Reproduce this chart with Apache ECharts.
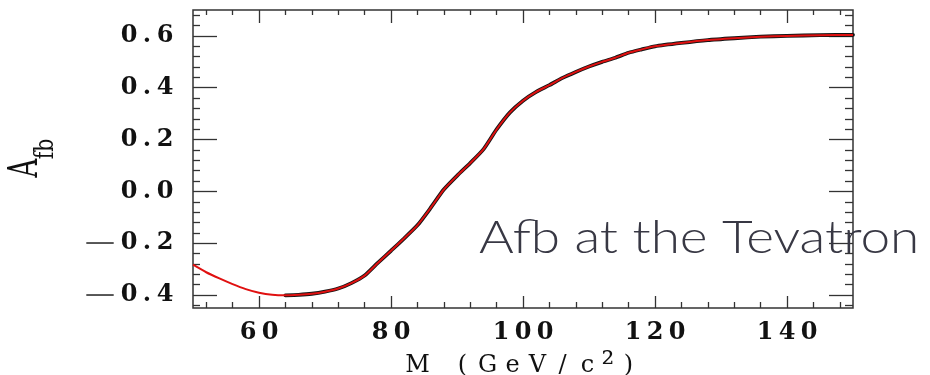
<!DOCTYPE html>
<html>
<head>
<meta charset="utf-8">
<script src="https://cdn.jsdelivr.net/npm/echarts@6/dist/echarts.min.js"></script>
<style>
  html, body { margin: 0; padding: 0; background: #fff; }
  #chart { width: 930px; height: 375px; }
</style>
</head>
<body>
<div id="chart"></div>
<script>
// curve
var massGeV = [50, 52, 54, 56, 58, 60, 62, 64, 66, 68, 70, 72, 74, 76, 78, 80, 82, 84, 86, 88,
  90, 92, 94, 96, 98, 100, 102, 104, 106, 108, 110, 112, 114, 116, 118, 120, 124, 128, 132, 136,
  140, 145, 150];
var afb = [-0.283, -0.312, -0.336, -0.358, -0.377, -0.391, -0.399, -0.401, -0.399, -0.395,
  -0.387, -0.375, -0.354, -0.325, -0.276, -0.229, -0.181, -0.131, -0.064, 0.007,
  0.060, 0.109, 0.162, 0.239, 0.304, 0.350, 0.384, 0.410, 0.438, 0.461,
  0.482, 0.500, 0.516, 0.535, 0.548, 0.560, 0.573, 0.584, 0.591, 0.597,
  0.600, 0.603, 0.604];

// ticks
var xMajor = [60, 80, 100, 120, 140];
var xMinor = [52, 56, 64, 68, 72, 76, 84, 88, 92, 96, 104, 108, 112, 116, 124, 128, 132, 136, 144, 148];
var yMajor = [-0.4, -0.2, 0, 0.2, 0.4, 0.6];
var yMinor = [-0.44, -0.36, -0.32, -0.28, -0.24, -0.16, -0.12, -0.08, -0.04, 0.04, 0.08, 0.12,
  0.16, 0.24, 0.28, 0.32, 0.36, 0.44, 0.48, 0.52, 0.56, 0.64, 0.68];

var xTitle = 'M (GeV/c\u00b2)';
var note = 'Afb at the Tevatron';

var tickColor = '#333';
var serif = 'DejaVu Serif';

// spread characters out, the original labels are very wide
function wide(s) {
  return s.split('').map(function (c) {
    if (c === '.') return '{p|.}';
    if (c === '-') return '{m|\u2014}';
    if (c === ' ') return '{s| }';
    if (c === '\u00b2') return '{u|\u00b2}';
    return '{d|' + c + '}';
  }).join('');
}
var wideRich = {
  d: { width: 22, align: 'center', fontFamily: serif, fontWeight: 'bold', fontSize: 24, color: '#111' },
  p: { width: 14, align: 'center', fontFamily: serif, fontWeight: 'bold', fontSize: 24, color: '#111' },
  m: { width: 36, align: 'center', fontFamily: serif, fontSize: 30, color: '#555' },
  s: { width: 20, align: 'center', fontSize: 20 }
};
var nameRich = {
  d: { width: 25, align: 'center', fontFamily: serif, fontSize: 24, color: '#111' },
  u: { width: 16, align: 'center', fontFamily: serif, fontSize: 32, color: '#111' },
  s: { width: 20, align: 'center', fontSize: 20 }
};

function tickAxis(pos, vals, len, extra) {
  var a = {
    type: 'value',
    position: pos,
    axisLine: { show: false, onZero: false },
    splitLine: { show: false },
    axisLabel: { show: false },
    axisTick: { show: true, inside: true, length: len, customValues: vals,
      lineStyle: { color: tickColor, width: 1.3 } }
  };
  for (var k in extra) a[k] = extra[k];
  return a;
}

var xr = { min: 50, max: 150 };
var yr = { min: -0.45, max: 0.7 };

var xAxes = [
  tickAxis('bottom', xMajor, 12, xr),
  tickAxis('bottom', xMinor, 6, xr),
  tickAxis('top', xMajor, 13, xr),
  tickAxis('top', xMinor, 5, xr)
];
xAxes[0].axisLabel = {
  show: true, customValues: xMajor, margin: 13,
  formatter: function (v) { return wide(String(v)); },
  rich: wideRich
};
xAxes[0].name = wide(xTitle);
xAxes[0].nameLocation = 'middle';
xAxes[0].nameGap = 35;
xAxes[0].nameTextStyle = { rich: nameRich };

var yAxes = [
  tickAxis('left', yMajor, 24, yr),
  tickAxis('left', yMinor, 7, yr),
  tickAxis('right', yMajor, 24, yr),
  tickAxis('right', yMinor, 8, yr)
];
yAxes[0].axisLabel = {
  show: true, customValues: yMajor, margin: 17,
  formatter: function (v) { return wide(v.toFixed(1)); },
  rich: wideRich
};

var curve = massGeV.map(function (m, i) { return [m, afb[i]]; });
var curveUnder = curve.filter(function (p) { return p[0] >= 64; });

var myChart = echarts.init(document.getElementById('chart'));
var option = {
  animation: false,
  backgroundColor: '#fff',
  grid: { left: 193, right: 77, top: 10, bottom: 67, show: true, outerBoundsMode: 'none',
    containLabel: false,
    borderColor: '#333', borderWidth: 1.5, backgroundColor: 'transparent' },
  xAxis: xAxes,
  yAxis: yAxes,
  series: [
    {
      type: 'line', xAxisIndex: 0, yAxisIndex: 0,
      data: curveUnder, showSymbol: false, smooth: 0.2,
      lineStyle: { color: '#151515', width: 3.8, cap: 'round' }, z: 2
    },
    {
      type: 'line', xAxisIndex: 0, yAxisIndex: 0,
      data: curve, showSymbol: false, smooth: 0.2,
      lineStyle: { color: '#e01010', width: 2 }, z: 3
    }
  ],
  graphic: [
    {
      type: 'text', x: 27, y: 168, rotation: Math.PI / 2, scaleY: 1.55,
      style: { text: 'A', font: '26px "DejaVu Serif"', fill: '#111', align: 'center', verticalAlign: 'middle' }
    },
    {
      type: 'text', x: 46, y: 149, rotation: Math.PI / 2, scaleX: 1.2, scaleY: 1.5,
      style: { text: 'fb', font: '17px "DejaVu Serif"', fill: '#111', align: 'center', verticalAlign: 'middle' }
    },
    {
      type: 'text', x: 479, y: 238, scaleX: 1.155, z: 100,
      style: { text: note, font: '300 46px Lato', fill: '#383844', align: 'left', verticalAlign: 'middle' }
    }
  ]
};
myChart.setOption(option);
</script>
</body>
</html>
